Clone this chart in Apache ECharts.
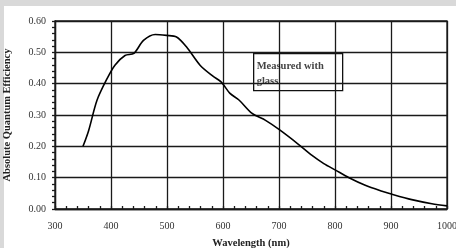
<!DOCTYPE html>
<html>
<head>
<meta charset="utf-8">
<script src="https://cdn.jsdelivr.net/npm/echarts@6/dist/echarts.min.js"></script>
<style>
  html, body { margin: 0; padding: 0; background: #d9d9d9; }
  #main { width: 456px; height: 248px; }
</style>
</head>
<body>
<div id="main"></div>
<script>
// wavelength (nm) and quantum efficiency
var wavelength = [350, 360, 375, 393, 407, 425, 441, 458, 479, 499, 517, 535, 559, 582, 597, 612, 629, 652, 676, 700, 733, 759, 780, 801, 825, 854, 884, 902, 937, 973, 1000];
var efficiency = [0.20, 0.25, 0.347, 0.416, 0.459, 0.49, 0.497, 0.538, 0.557, 0.554, 0.549, 0.517, 0.459, 0.424, 0.405, 0.37, 0.347, 0.305, 0.283, 0.254, 0.209, 0.171, 0.145, 0.124, 0.10, 0.076, 0.057, 0.047, 0.030, 0.017, 0.010];
var xTicks = [300, 400, 500, 600, 700, 800, 900, 1000];
var yTicks = [0.00, 0.10, 0.20, 0.30, 0.40, 0.50, 0.60];
var noteText = 'Measured with\nglass';

var serif = '"Liberation Serif", "DejaVu Serif", serif';

var chart = echarts.init(document.getElementById('main'));

var points = wavelength.map(function (w, i) {
  return [w, efficiency[i]];
});

var option = {
  backgroundColor: '#d9d9d9',
  animation: false,
  graphic: [
    {
      type: 'rect',
      z: -10,
      shape: { x: 4, y: 6, width: 452, height: 242 },
      style: { fill: '#ffffff' }
    },
    {
      type: 'group',
      left: 253,
      top: 53,
      z: 100,
      children: [
        {
          type: 'rect',
          shape: { x: 0, y: 0, width: 89, height: 37 },
          style: { fill: '#fff', stroke: '#111', lineWidth: 1.3 }
        },
        {
          type: 'text',
          x: 3,
          y: 5,
          style: {
            text: noteText,
            font: 'bold 10.5px ' + serif,
            fill: '#444',
            lineHeight: 15
          }
        }
      ]
    }
  ],
  grid: {
    left: 55,
    right: 9,
    top: 21,
    bottom: 39,
    outerBoundsMode: 'none',
    containLabel: false,
    show: true,
    borderColor: '#1a1a1a',
    borderWidth: 1.3,
    backgroundColor: 'transparent'
  },
  xAxis: {
    type: 'value',
    min: xTicks[0],
    max: xTicks[xTicks.length - 1],
    interval: 100,
    name: 'Wavelength (nm)',
    nameLocation: 'middle',
    nameGap: 29,
    nameTextStyle: { fontFamily: serif, fontWeight: 'bold', fontSize: 10.5, color: '#222' },
    axisLine: { lineStyle: { color: '#1a1a1a', width: 1.3 } },
    axisTick: { show: true, inside: true, length: 3, lineStyle: { color: '#1a1a1a', width: 1.3 } },
    minorTick: { show: true, splitNumber: 5, length: 3, lineStyle: { color: '#1a1a1a', width: 1.3 } },
    axisLabel: {
      fontFamily: serif, fontSize: 10, color: '#333', margin: 12,
      formatter: function (v) { return String(v); }
    },
    splitLine: { show: true, lineStyle: { color: '#1a1a1a', width: 1.3 } }
  },
  yAxis: {
    type: 'value',
    min: yTicks[0],
    max: yTicks[yTicks.length - 1],
    interval: 0.1,
    name: 'Absolute Quantum Efficiency',
    nameLocation: 'middle',
    nameGap: 42,
    nameTextStyle: { fontFamily: serif, fontWeight: 'bold', fontSize: 10.5, color: '#222' },
    axisLine: { show: true, lineStyle: { color: '#1a1a1a', width: 1.3 } },
    axisTick: { show: true, length: 3, lineStyle: { color: '#1a1a1a', width: 1.3 } },
    minorTick: { show: true, splitNumber: 5, length: 3, lineStyle: { color: '#1a1a1a', width: 1.3 } },
    axisLabel: {
      fontFamily: serif, fontSize: 10, color: '#333', margin: 9,
      formatter: function (v) { return v.toFixed(2); }
    },
    splitLine: { show: true, lineStyle: { color: '#1a1a1a', width: 1.3 } }
  },
  series: [
    {
      name: 'QE',
      type: 'line',
      data: points,
      smooth: 0.3,
      showSymbol: false,
      lineStyle: { color: '#000', width: 1.6 }
    }
  ]
};

chart.setOption(option);
</script>
</body>
</html>
